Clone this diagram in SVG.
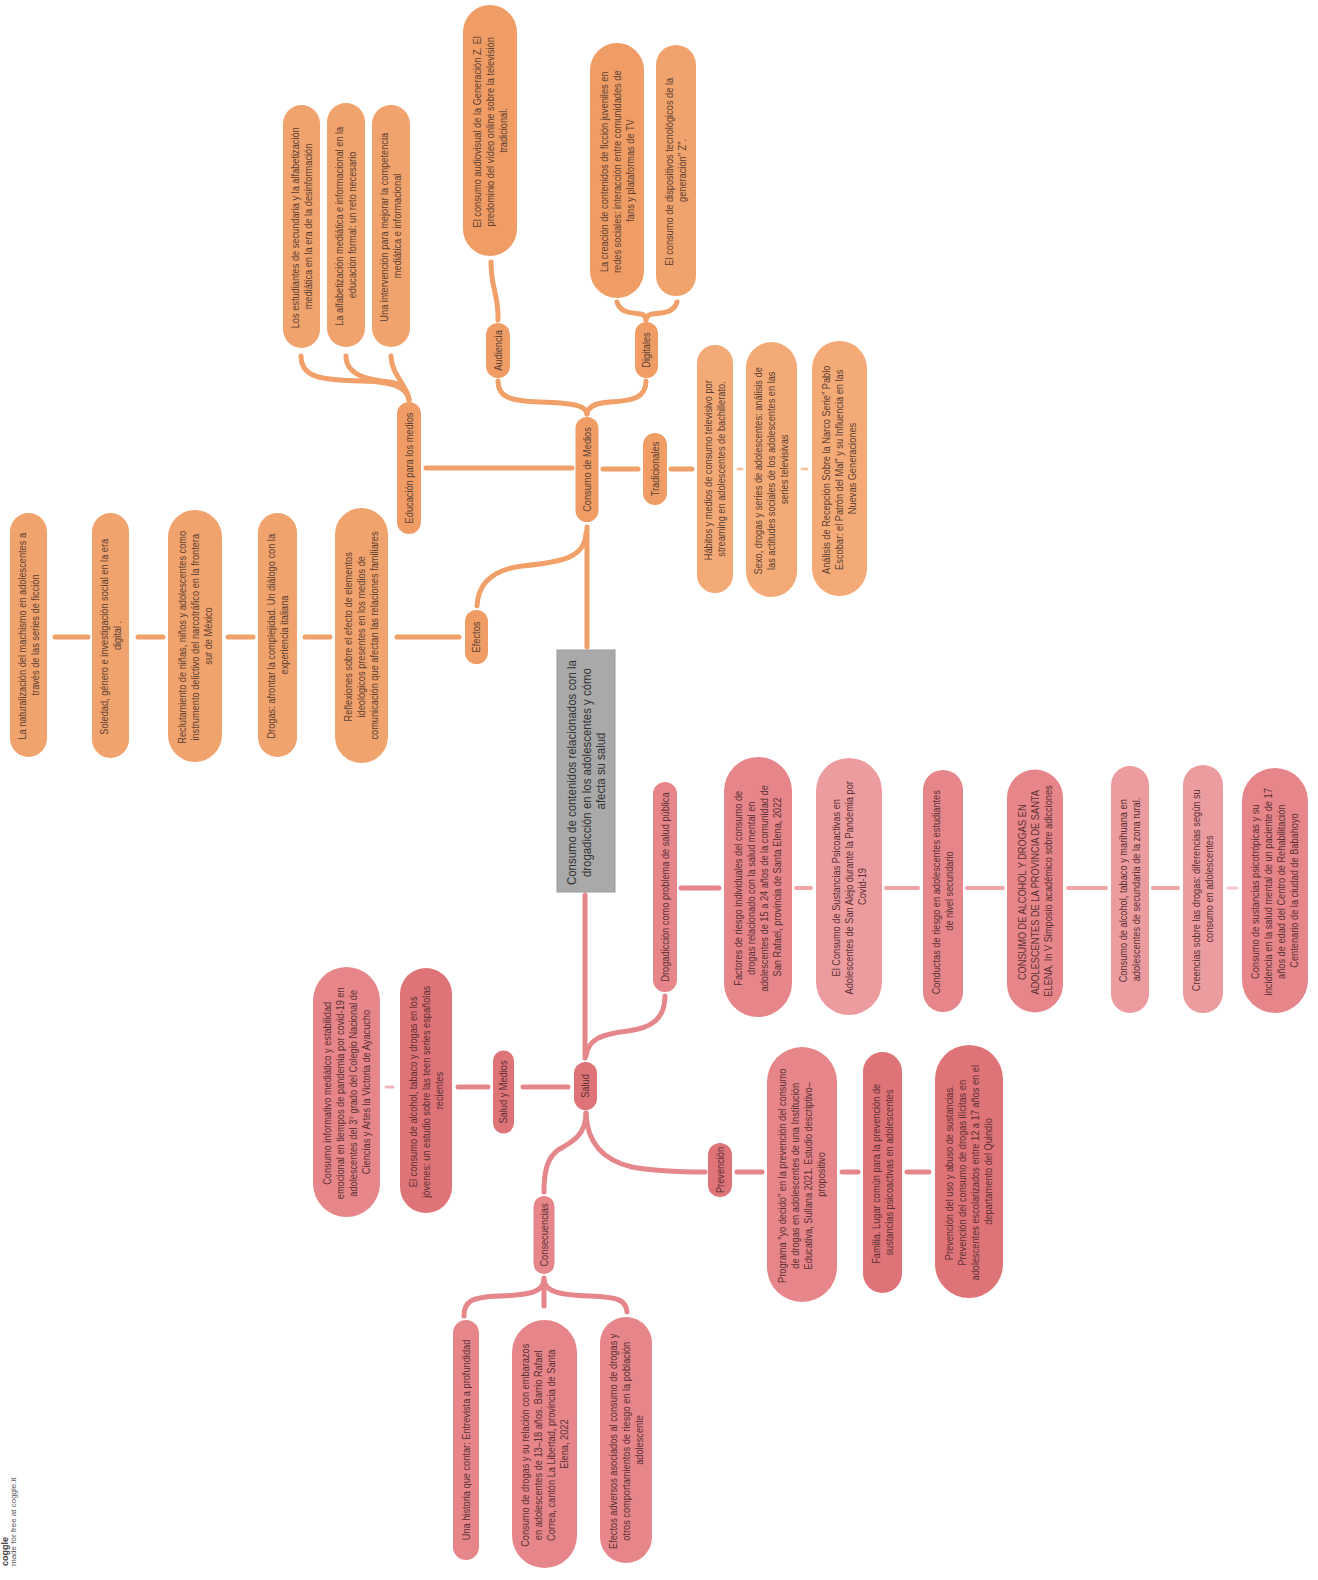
<svg xmlns="http://www.w3.org/2000/svg" width="1318" height="1580" viewBox="0 0 1318 1580">
  <style>
    .bg { fill: #ffffff; }
    .o1 { fill: #EF9D65; }
    .o2 { fill: #F1A36D; }
    .o3 { fill: #F3AA77; }
    .p1 { fill: #E6868A; }
    .p2 { fill: #EC9C9F; }
    .p3 { fill: #DF7478; }
    .core { fill: #A9A9A9; stroke: #9A9A9A; stroke-width: 1; }
    text { font-family: "Liberation Sans", Arial, sans-serif; font-size: 10.5px; text-anchor: middle; }
    .to { fill: #5E4033; }
    .tp { fill: #5B3035; }
    .tc { fill: #333333; font-size: 13px; }
    .co { fill: none; stroke: #F0A068; stroke-width: 5; stroke-linecap: round; }
    .cp { fill: none; stroke: #E5868B; stroke-width: 5; stroke-linecap: round; }
    .cpl { fill: none; stroke: #EDA4A7; stroke-width: 4; stroke-linecap: round; }
    .thin { stroke-width: 3; opacity: 0.6; }
    .wm { fill: #555555; text-anchor: start; font-size: 8px; }
    .wmb { fill: #444444; text-anchor: start; font-size: 9px; font-weight: bold; }
  </style>
  <rect class="bg" x="0" y="0" width="1318" height="1580"/>

  <!-- connectors -->
  <g id="connectors">
    <!-- media education branch -->
    <path class="co" d="M301,356 C301,378 322,380 362,381 C396,382 407,388 409,400"/>
    <path class="co" d="M346,356 C346,376 370,380 390,382 C402,384 408,390 409,400"/>
    <path class="co" d="M391,356 C391,374 407,385 409,400"/>
    <path class="co" d="M426,468 L572,468"/>
    <path class="co" d="M603,469 L638,469"/>
    <path class="co" d="M671,469 L692,469"/>
    <path class="co thin" d="M738,469 L742,469"/>
    <path class="co thin" d="M802,469 L807,469"/>
    <path class="co" d="M491,262 C491,290 499,295 498,320"/>
    <path class="co" d="M617,302 C620,313 632,313 641,314 C645,315 646,317 646,320"/>
    <path class="co" d="M677,302 C674,313 662,313 652,314 C648,315 646,317 646,320"/>
    <path class="co" d="M498,381 C498,398 512,401 540,402 C576,403 586,406 587,414"/>
    <path class="co" d="M646,381 C646,398 632,401 610,402 C596,403 588,406 587,414"/>
    <path class="co" d="M587,527 L587,647"/>
    <path class="co" d="M586,533 C585,558 562,562 522,566 C490,570 478,585 477,606"/>
    <path class="co" d="M397,637 L459,637"/>
    <path class="co" d="M305,637 L330,637"/>
    <path class="co" d="M228,637 L253,637"/>
    <path class="co" d="M138,637 L163,637"/>
    <path class="co" d="M55,637 L88,637"/>

    <!-- health branch -->
    <path class="cp" d="M585,895 L585,1058"/>
    <path class="cp" d="M665,996 C665,1020 650,1028 628,1031 C600,1034 588,1040 586,1056"/>
    <path class="cp" d="M681,888 L719,888"/>
    <path class="cpl" d="M796,888 L811,888"/>
    <path class="cpl" d="M886,888 L918,888"/>
    <path class="cpl" d="M967,888 L1003,888"/>
    <path class="cpl" d="M1068,888 L1106,888"/>
    <path class="cpl" d="M1153,888 L1178,888"/>
    <path class="cpl thin" d="M1228,888 L1237,888"/>
    <path class="cp" d="M523,1087 L568,1087"/>
    <path class="cp" d="M458,1087 L488,1087"/>
    <path class="cp thin" d="M386,1087 L393,1087"/>
    <path class="cp" d="M586,1113 C586,1135 572,1142 558,1150 C547,1158 544,1172 544,1192"/>
    <path class="cp" d="M586,1113 C587,1142 602,1160 632,1167 C660,1172 688,1172 705,1172"/>
    <path class="cp" d="M737,1172 L762,1172"/>
    <path class="cp" d="M842,1172 L858,1172"/>
    <path class="cp" d="M907,1172 L929,1172"/>
    <path class="cp" d="M544,1278 L544,1306"/>
    <path class="cp" d="M544,1280 C543,1292 530,1295 500,1296 C470,1297 464,1302 464,1316"/>
    <path class="cp" d="M544,1280 C545,1292 560,1295 590,1296 C618,1297 626,1300 627,1312"/>
  </g>

  <!-- central topic -->
  <g id="central">
    <rect class="core" x="557" y="650" width="58" height="242"/>
    <g transform="translate(586 771) rotate(-90)">
      <text class="tc" transform="scale(0.88 1)">
        <tspan x="0" y="-10">Consumo de contenidos relacionados con la</tspan>
        <tspan x="0" y="4.5">drogadicción en los adolescentes y cómo</tspan>
        <tspan x="0" y="19">afecta su salud</tspan>
      </text>
    </g>
  </g>

  <!-- media consumption side -->
  <g id="consumo-medios" transform="translate(587 469.5) rotate(-90)">
    <rect class="o1" x="-52.5" y="-11.5" width="105" height="23" rx="11.5"/>
    <text class="to" transform="scale(0.88 1)"><tspan x="0" y="3.6">Consumo de Medios</tspan></text>
  </g>
  <g id="educacion" transform="translate(409 468) rotate(-90)">
    <rect class="o1" x="-66" y="-12" width="132" height="24" rx="12"/>
    <text class="to" transform="scale(0.88 1)"><tspan x="0" y="3.6">Educación para los medios</tspan></text>
  </g>
  <g id="edu-1" transform="translate(301.5 226.5) rotate(-90)">
    <rect class="o2" x="-121.5" y="-18.5" width="243" height="37" rx="18.5"/>
    <text class="to" transform="scale(0.88 1)">
      <tspan x="0" y="-2.9">Los estudiantes de secundaria y la alfabetización</tspan>
      <tspan x="0" y="10.1">mediática en la era de la desinformación</tspan>
    </text>
  </g>
  <g id="edu-2" transform="translate(346 225) rotate(-90)">
    <rect class="o2" x="-122" y="-19" width="244" height="38" rx="19"/>
    <text class="to" transform="scale(0.88 1)">
      <tspan x="0" y="-2.9">La alfabetización mediática e informacional en la</tspan>
      <tspan x="0" y="10.1">educación formal: un reto necesario</tspan>
    </text>
  </g>
  <g id="edu-3" transform="translate(391 226) rotate(-90)">
    <rect class="o2" x="-121" y="-19" width="242" height="38" rx="19"/>
    <text class="to" transform="scale(0.88 1)">
      <tspan x="0" y="-2.9">Una intervención para mejorar la competencia</tspan>
      <tspan x="0" y="10.1">mediática e informacional</tspan>
    </text>
  </g>
  <g id="audiencia" transform="translate(498 350.5) rotate(-90)">
    <rect class="o1" x="-27.5" y="-12" width="55" height="24" rx="12"/>
    <text class="to" transform="scale(0.88 1)"><tspan x="0" y="3.6">Audiencia</tspan></text>
  </g>
  <g id="aud-1" transform="translate(490 130.5) rotate(-90)">
    <rect class="o1" x="-125.5" y="-27" width="251" height="54" rx="27"/>
    <text class="to" transform="scale(0.88 1)">
      <tspan x="0" y="-9.4">El consumo audiovisual de la Generación Z. El</tspan>
      <tspan x="0" y="3.6">predominio del vídeo online sobre la televisión</tspan>
      <tspan x="0" y="16.6">tradicional.</tspan>
    </text>
  </g>
  <g id="digitales" transform="translate(646.5 350) rotate(-90)">
    <rect class="o1" x="-28" y="-11.5" width="56" height="23" rx="11.5"/>
    <text class="to" transform="scale(0.88 1)"><tspan x="0" y="3.6">Digitales</tspan></text>
  </g>
  <g id="dig-1" transform="translate(617 170.5) rotate(-90)">
    <rect class="o1" x="-127.5" y="-27" width="255" height="54" rx="27"/>
    <text class="to" transform="scale(0.88 1)">
      <tspan x="0" y="-9.4">La creación de contenidos de ficción juveniles en</tspan>
      <tspan x="0" y="3.6">redes sociales: interacción entre comunidades de</tspan>
      <tspan x="0" y="16.6">fans y plataformas de TV</tspan>
    </text>
  </g>
  <g id="dig-2" transform="translate(676 170.5) rotate(-90)">
    <rect class="o2" x="-125.5" y="-20" width="251" height="40" rx="20"/>
    <text class="to" transform="scale(0.88 1)">
      <tspan x="0" y="-2.9">El consumo de dispositivos tecnológicos de la</tspan>
      <tspan x="0" y="10.1">generación" Z".</tspan>
    </text>
  </g>
  <g id="tradicionales" transform="translate(655 469) rotate(-90)">
    <rect class="o1" x="-36" y="-12" width="72" height="24" rx="12"/>
    <text class="to" transform="scale(0.88 1)"><tspan x="0" y="3.6">Tradicionales</tspan></text>
  </g>
  <g id="trad-1" transform="translate(715 469) rotate(-90)">
    <rect class="o3" x="-124" y="-18" width="248" height="36" rx="18"/>
    <text class="to" transform="scale(0.88 1)">
      <tspan x="0" y="-2.9">Hábitos y medios de consumo televisivo por</tspan>
      <tspan x="0" y="10.1">streaming en adolescentes de bachillerato.</tspan>
    </text>
  </g>
  <g id="trad-2" transform="translate(771.5 469.5) rotate(-90)">
    <rect class="o3" x="-127.5" y="-25.5" width="255" height="51" rx="25.5"/>
    <text class="to" transform="scale(0.88 1)">
      <tspan x="0" y="-9.4">Sexo, drogas y series de adolescentes: análisis de</tspan>
      <tspan x="0" y="3.6">las actitudes sociales de los adolescentes en las</tspan>
      <tspan x="0" y="16.6">series televisivas</tspan>
    </text>
  </g>
  <g id="trad-3" transform="translate(839.5 468.5) rotate(-90)">
    <rect class="o3" x="-127.5" y="-27.5" width="255" height="55" rx="27.5"/>
    <text class="to" transform="scale(0.88 1)">
      <tspan x="0" y="-9.4">Análisis de Recepción Sobre la Narco Serie" Pablo</tspan>
      <tspan x="0" y="3.6">Escobar: el Patrón del Mal" y su Influencia en las</tspan>
      <tspan x="0" y="16.6">Nuevas Generaciones</tspan>
    </text>
  </g>

  <!-- effects branch -->
  <g id="efectos" transform="translate(476.5 637) rotate(-90)">
    <rect class="o1" x="-27" y="-11.5" width="54" height="23" rx="11.5"/>
    <text class="to" transform="scale(0.88 1)"><tspan x="0" y="3.6">Efectos</tspan></text>
  </g>
  <g id="efe-1" transform="translate(361.5 635.5) rotate(-90)">
    <rect class="o2" x="-127.5" y="-26.5" width="255" height="53" rx="26.5"/>
    <text class="to" transform="scale(0.88 1)">
      <tspan x="0" y="-9.4">Reflexiones sobre el efecto de elementos</tspan>
      <tspan x="0" y="3.6">ideológicos presentes en los medios de</tspan>
      <tspan x="0" y="16.6">comunicación que afectan las relaciones familiares</tspan>
    </text>
  </g>
  <g id="efe-2" transform="translate(277.5 635) rotate(-90)">
    <rect class="o2" x="-122" y="-19.5" width="244" height="39" rx="19.5"/>
    <text class="to" transform="scale(0.88 1)">
      <tspan x="0" y="-2.9">Drogas: afrontar la complejidad. Un diálogo con la</tspan>
      <tspan x="0" y="10.1">experiencia italiana</tspan>
    </text>
  </g>
  <g id="efe-3" transform="translate(195 636) rotate(-90)">
    <rect class="o2" x="-126" y="-27" width="252" height="54" rx="27"/>
    <text class="to" transform="scale(0.88 1)">
      <tspan x="0" y="-9.4">Reclutamiento de niñas, niños y adolescentes como</tspan>
      <tspan x="0" y="3.6">instrumento delictivo del narcotráfico en la frontera</tspan>
      <tspan x="0" y="16.6">sur de México</tspan>
    </text>
  </g>
  <g id="efe-4" transform="translate(110.5 635.5) rotate(-90)">
    <rect class="o2" x="-122.5" y="-18.5" width="245" height="37" rx="18.5"/>
    <text class="to" transform="scale(0.88 1)">
      <tspan x="0" y="-2.9">Soledad, género e investigación social en la era</tspan>
      <tspan x="0" y="10.1">digital .</tspan>
    </text>
  </g>
  <g id="efe-5" transform="translate(28.5 635) rotate(-90)">
    <rect class="o2" x="-122" y="-18.5" width="244" height="37" rx="18.5"/>
    <text class="to" transform="scale(0.88 1)">
      <tspan x="0" y="-2.9">La naturalización del machismo en adolescentes a</tspan>
      <tspan x="0" y="10.1">través de las series de ficción</tspan>
    </text>
  </g>

  <!-- public health branch -->
  <g id="drogadiccion" transform="translate(665 887) rotate(-90)">
    <rect class="p1" x="-105" y="-12" width="210" height="24" rx="12"/>
    <text class="tp" transform="scale(0.88 1)"><tspan x="0" y="3.6">Drogadicción como problema de salud pública</tspan></text>
  </g>
  <g id="dro-1" transform="translate(758 887) rotate(-90)">
    <rect class="p1" x="-130" y="-34" width="260" height="68" rx="34"/>
    <text class="tp" transform="scale(0.88 1)">
      <tspan x="0" y="-15.9">Factores de riesgo individuales del consumo de</tspan>
      <tspan x="0" y="-2.9">drogas relacionado con la salud mental en</tspan>
      <tspan x="0" y="10.1">adolescentes de 15 a 24 años de la comunidad de</tspan>
      <tspan x="0" y="23.1">San Rafael, provincia de Santa Elena, 2022</tspan>
    </text>
  </g>
  <g id="dro-2" transform="translate(849 886.5) rotate(-90)">
    <rect class="p2" x="-128.5" y="-33" width="257" height="66" rx="33"/>
    <text class="tp" transform="scale(0.88 1)">
      <tspan x="0" y="-9.4">El Consumo de Sustancias Psicoactivas en</tspan>
      <tspan x="0" y="3.6">Adolescentes de San Alejo durante la Pandemia por</tspan>
      <tspan x="0" y="16.6">Covid-19</tspan>
    </text>
  </g>
  <g id="dro-3" transform="translate(943 891) rotate(-90)">
    <rect class="p1" x="-121" y="-20" width="242" height="40" rx="20"/>
    <text class="tp" transform="scale(0.88 1)">
      <tspan x="0" y="-2.9">Conductas de riesgo en adolescentes estudiantes</tspan>
      <tspan x="0" y="10.1">de nivel secundario</tspan>
    </text>
  </g>
  <g id="dro-4" transform="translate(1035 891) rotate(-90)">
    <rect class="p1" x="-121.5" y="-28" width="243" height="56" rx="28"/>
    <text class="tp" transform="scale(0.88 1)">
      <tspan x="0" y="-9.4">CONSUMO DE ALCOHOL Y DROGAS EN</tspan>
      <tspan x="0" y="3.6">ADOLESCENTES DE LA PROVINCIA DE SANTA</tspan>
      <tspan x="0" y="16.6">ELENA. In V Simposio académico sobre adicciones</tspan>
    </text>
  </g>
  <g id="dro-5" transform="translate(1130 889.5) rotate(-90)">
    <rect class="p2" x="-123.5" y="-19" width="247" height="38" rx="19"/>
    <text class="tp" transform="scale(0.88 1)">
      <tspan x="0" y="-2.9">Consumo de alcohol, tabaco y marihuana en</tspan>
      <tspan x="0" y="10.1">adolescentes de secundaria de la zona rural.</tspan>
    </text>
  </g>
  <g id="dro-6" transform="translate(1203 889) rotate(-90)">
    <rect class="p2" x="-124" y="-20" width="248" height="40" rx="20"/>
    <text class="tp" transform="scale(0.88 1)">
      <tspan x="0" y="-2.9">Creencias sobre las drogas: diferencias según su</tspan>
      <tspan x="0" y="10.1">consumo en adolescentes</tspan>
    </text>
  </g>
  <g id="dro-7" transform="translate(1275 890.5) rotate(-90)">
    <rect class="p1" x="-122.5" y="-33" width="245" height="66" rx="33"/>
    <text class="tp" transform="scale(0.88 1)">
      <tspan x="0" y="-15.9">Consumo de sustancias psicotrópicas y su</tspan>
      <tspan x="0" y="-2.9">incidencia en la salud mental de un paciente de 17</tspan>
      <tspan x="0" y="10.1">años de edad del Centro de Rehabilitación</tspan>
      <tspan x="0" y="23.1">Centenario de la ciudad de Babahoyo</tspan>
    </text>
  </g>

  <!-- health node and its branches -->
  <g id="salud" transform="translate(585.5 1086) rotate(-90)">
    <rect class="p3" x="-24" y="-11.5" width="48" height="23" rx="11.5"/>
    <text class="tp" transform="scale(0.88 1)"><tspan x="0" y="3.6">Salud</tspan></text>
  </g>
  <g id="salud-medios" transform="translate(503.5 1092) rotate(-90)">
    <rect class="p3" x="-41.5" y="-10.5" width="83" height="21" rx="10.5"/>
    <text class="tp" transform="scale(0.88 1)"><tspan x="0" y="3.6">Salud y Medios</tspan></text>
  </g>
  <g id="sm-1" transform="translate(426 1090.5) rotate(-90)">
    <rect class="p3" x="-122.5" y="-26" width="245" height="52" rx="26"/>
    <text class="tp" transform="scale(0.88 1)">
      <tspan x="0" y="-9.4">El consumo de alcohol, tabaco y drogas en los</tspan>
      <tspan x="0" y="3.6">jóvenes: un estudio sobre las teen series españolas</tspan>
      <tspan x="0" y="16.6">recientes</tspan>
    </text>
  </g>
  <g id="sm-2" transform="translate(346.5 1092) rotate(-90)">
    <rect class="p1" x="-125" y="-33.5" width="250" height="67" rx="33.5"/>
    <text class="tp" transform="scale(0.88 1)">
      <tspan x="0" y="-15.9">Consumo informativo mediático y estabilidad</tspan>
      <tspan x="0" y="-2.9">emocional en tiempos de pandemia por covid-19 en</tspan>
      <tspan x="0" y="10.1">adolescentes del 3° grado del Colegio Nacional de</tspan>
      <tspan x="0" y="23.1">Ciencias y Artes la Victoria de Ayacucho</tspan>
    </text>
  </g>
  <g id="prevencion" transform="translate(720 1170) rotate(-90)">
    <rect class="p3" x="-27" y="-12" width="54" height="24" rx="12"/>
    <text class="tp" transform="scale(0.88 1)"><tspan x="0" y="3.6">Prevención</tspan></text>
  </g>
  <g id="pre-1" transform="translate(802 1174.5) rotate(-90)">
    <rect class="p1" x="-127.5" y="-35" width="255" height="70" rx="35"/>
    <text class="tp" transform="scale(0.88 1)">
      <tspan x="0" y="-15.9">Programa "yo decido" en la prevención del consumo</tspan>
      <tspan x="0" y="-2.9">de drogas en adolescentes de una Institución</tspan>
      <tspan x="0" y="10.1">Educativa, Sullana 2021. Estudio descriptivo–</tspan>
      <tspan x="0" y="23.1">propositivo</tspan>
    </text>
  </g>
  <g id="pre-2" transform="translate(882.5 1172.5) rotate(-90)">
    <rect class="p3" x="-120.5" y="-19.5" width="241" height="39" rx="19.5"/>
    <text class="tp" transform="scale(0.88 1)">
      <tspan x="0" y="-2.9">Familia. Lugar común para la prevención de</tspan>
      <tspan x="0" y="10.1">sustancias psicoactivas en adolescentes</tspan>
    </text>
  </g>
  <g id="pre-3" transform="translate(969 1171.5) rotate(-90)">
    <rect class="p3" x="-126.5" y="-34" width="253" height="68" rx="34"/>
    <text class="tp" transform="scale(0.88 1)">
      <tspan x="0" y="-15.9">Prevención del uso y abuso de sustancias.</tspan>
      <tspan x="0" y="-2.9">Prevención del consumo de drogas ilícitas en</tspan>
      <tspan x="0" y="10.1">adolescentes escolarizados entre 12 a 17 años en el</tspan>
      <tspan x="0" y="23.1">departamento del Quindío</tspan>
    </text>
  </g>
  <g id="consecuencias" transform="translate(544 1235) rotate(-90)">
    <rect class="p1" x="-39" y="-10.5" width="78" height="21" rx="10.5"/>
    <text class="tp" transform="scale(0.88 1)"><tspan x="0" y="3.6">Consecuencias</tspan></text>
  </g>
  <g id="con-1" transform="translate(466 1440) rotate(-90)">
    <rect class="p1" x="-120" y="-13" width="240" height="26" rx="13"/>
    <text class="tp" transform="scale(0.88 1)"><tspan x="0" y="3.6">Una historia que contar: Entrevista a profundidad</tspan></text>
  </g>
  <g id="con-2" transform="translate(544.5 1444) rotate(-90)">
    <rect class="p1" x="-124" y="-32.5" width="248" height="65" rx="32.5"/>
    <text class="tp" transform="scale(0.88 1)">
      <tspan x="0" y="-15.9">Consumo de drogas y su relación con embarazos</tspan>
      <tspan x="0" y="-2.9">en adolescentes de 13–18 años. Barrio Rafael</tspan>
      <tspan x="0" y="10.1">Correa, cantón La Libertad, provincia de Santa</tspan>
      <tspan x="0" y="23.1">Elena, 2022</tspan>
    </text>
  </g>
  <g id="con-3" transform="translate(626 1440) rotate(-90)">
    <rect class="p1" x="-123" y="-26" width="246" height="52" rx="26"/>
    <text class="tp" transform="scale(0.88 1)">
      <tspan x="0" y="-9.4">Efectos adversos asociados al consumo de drogas y</tspan>
      <tspan x="0" y="3.6">otros comportamientos de riesgo en la población</tspan>
      <tspan x="0" y="16.6">adolescente</tspan>
    </text>
  </g>

  <!-- footer mark -->
  <g id="footer" transform="translate(0 1566) rotate(-90)">
    <text class="wmb" x="0" y="8">coggle</text>
    <text class="wm" x="0" y="16">made for free at coggle.it</text>
  </g>
</svg>
